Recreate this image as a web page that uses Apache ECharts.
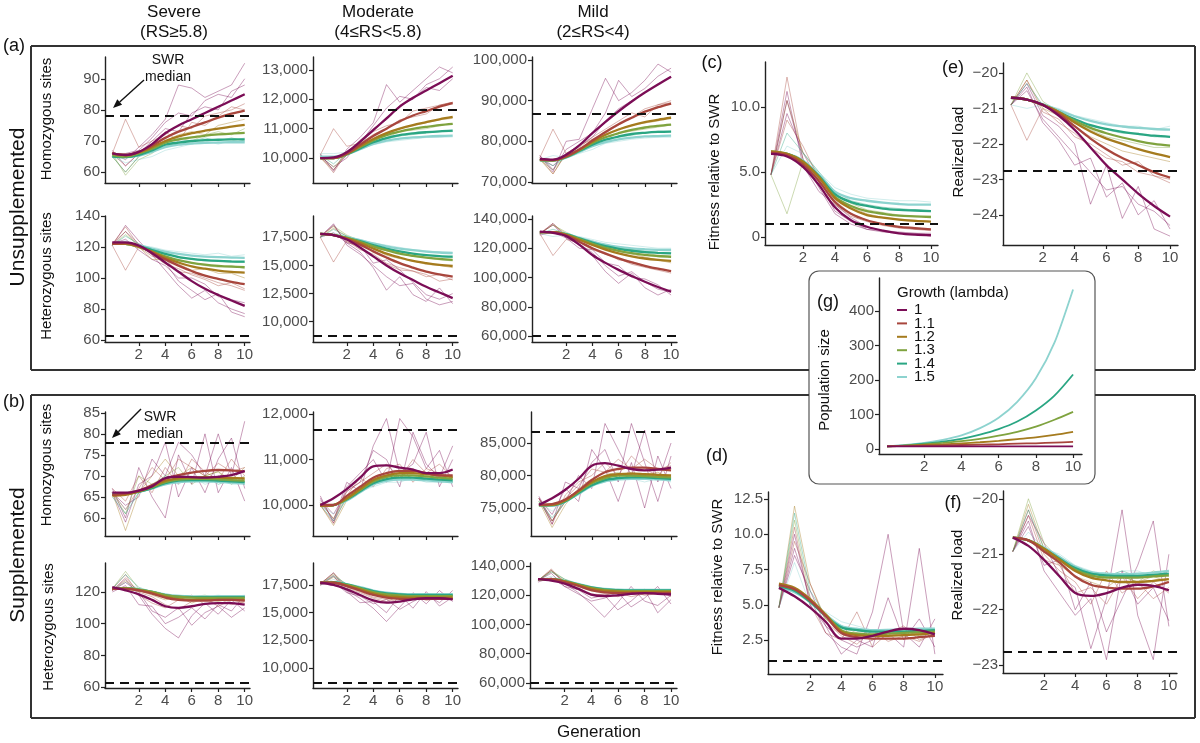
<!DOCTYPE html>
<html><head><meta charset="utf-8">
<script src="https://cdn.jsdelivr.net/npm/echarts@6/dist/echarts.min.js"></script>
<style>html,body{margin:0;padding:0;background:#fff}#c{width:1200px;height:743px}</style>
</head><body><div id="c"></div>
<script>
// ---------------- DATA ----------------
const generations = [0,1,2,3,4,5,6,7,8,9,10];
const generationTicks = [2,4,6,8,10];
const lambdaLabels = ['1','1.1','1.2','1.3','1.4','1.5'];
const repLambdaIndex = [0,0,1,2,3,5,0,1,4];

// (a) Unsupplemented, Severe, homozygous
const unsupSevHomTicks = [60,70,80,90];
const unsupSevHomSWR = 78;
const unsupSevHomMeans = [
 [66,65.5,66.5,69,72.5,75,77,79,81,83,85],
 [66,65.5,66.5,68.5,71,73,74.5,76,77.5,78.8,79.8],
 [66,65.5,66.3,68,70,71.5,72.5,73.3,74,74.6,75.2],
 [65.5,65,66,67.5,69.5,70.5,71.2,71.7,72.1,72.4,72.6],
 [65,64.8,65.5,67,68.8,69.5,70,70.3,70.4,70.5,70.5],
 [65,64.8,65.3,66.5,68,68.8,69.2,69.4,69.5,69.6,69.6]];
const unsupSevHomReps = [
 [67,62,66,70,74,73,79,81,80,86,88],
 [66,64,68,72,77,88,87,84,86,88,95],
 [66,77,68,70,72,75,74,78,79,80,82],
 [65,60,65,68,70,72,73,72,75,76,77],
 [66,59,64,66,69,71,70,72,73,72,74],
 [65,63,64,65,67,68,69,70,69,70,71],
 [66,66,67,71,76,79,78,83,85,84,90],
 [66,62,66,68,73,70,76,75,78,81,80],
 [65,60,65,67,68,70,70,71,70,71,70]];

// (a) Unsupplemented, Severe, heterozygous
const unsupSevHetTicks = [60,80,100,120,140];
const unsupSevHetSWR = 63;
const unsupSevHetMeans = [
 [123,123,121,116,110,104,98,93,89,85.5,82],
 [122,122.5,120.5,116.5,112,108,104.5,101.5,99.5,97.5,96],
 [122,122,120,117,113,110,107.5,106,104.8,104,103.5],
 [122,122,120,117,114,111.5,109.8,108.6,107.8,107.3,107],
 [122,122,120.5,118,115.5,113.5,112.3,111.5,111,110.7,110.5],
 [122,122,121,119,117,115.5,114.5,113.8,113.4,113.2,113]];
const unsupSevHetReps = [
 [121,134,124,115,105,95,87,92,84,80,77],
 [122,125,118,112,108,100,100,96,88,86,84],
 [121,105,120,114,112,104,103,100,97,95,92],
 [122,130,120,112,112,109,105,106,103,103,100],
 [121,128,121,117,113,111,110,108,107,108,106],
 [122,124,121,120,118,117,116,115,116,114,115],
 [121,130,122,118,110,98,92,86,90,78,75],
 [122,133,121,115,109,106,102,99,95,97,93],
 [121,127,122,118,115,114,112,111,111,110,110]];

// (a) Unsupplemented, Moderate, homozygous
const unsupModHomTicks = [10000,11000,12000,13000];
const unsupModHomSWR = 11650;
const unsupModHomMeans = [
 [10000,10020,10200,10550,10950,11350,11750,12050,12300,12550,12800],
 [10000,10000,10150,10450,10750,11000,11250,11450,11600,11750,11870],
 [10000,10000,10150,10400,10650,10850,11000,11120,11220,11320,11400],
 [10000,10000,10130,10370,10600,10780,10900,10990,11060,11120,11160],
 [10000,10000,10120,10330,10540,10680,10780,10840,10880,10910,10930],
 [10050,10050,10130,10300,10480,10590,10660,10700,10730,10750,10760]];
const unsupModHomReps = [
 [10150,9550,10300,10700,11200,12500,11900,12300,12700,13100,12900],
 [10050,9700,10000,10600,11000,11300,11800,12000,12400,12300,12700],
 [10100,11000,10400,10500,10800,11000,11300,11400,11500,11800,11900],
 [10000,9600,10200,10400,10600,10800,11000,11100,11200,11300,11350],
 [10050,9700,10100,10300,10500,10700,10900,10950,11000,11100,11150],
 [10150,10150,10200,10300,10450,10550,10600,10650,10700,10700,10720],
 [10100,9600,10100,10500,11100,11700,12100,12000,12500,12700,13100],
 [10050,9500,10200,10600,10900,11100,11200,11600,11700,11800,11900],
 [10100,9800,10200,10300,10500,10650,10750,10800,10850,10900,10900]];

// (a) Unsupplemented, Moderate, heterozygous
const unsupModHetTicks = [10000,12500,15000,17500];
const unsupModHetSWR = 8730;
const unsupModHetMeans = [
 [17800,17700,17300,16600,15800,15000,14300,13700,13100,12600,12100],
 [17800,17700,17350,16850,16250,15700,15200,14800,14450,14200,14000],
 [17800,17700,17400,17000,16500,16050,15700,15400,15200,15050,14950],
 [17800,17700,17450,17100,16700,16350,16050,15850,15700,15580,15500],
 [17800,17700,17450,17150,16800,16500,16250,16050,15920,15830,15780],
 [17800,17700,17500,17250,16950,16700,16500,16350,16230,16150,16100]];
const unsupModHetReps = [
 [17600,18600,17000,16200,14800,12800,14000,12400,11800,13000,11600],
 [17500,17900,17000,16800,15200,15500,14600,13500,12400,12000,12500],
 [17500,15300,17200,16400,16000,15200,14800,14500,14200,13600,13800],
 [17500,18300,17600,16900,16500,15900,15600,15400,15100,15000,14800],
 [17500,18500,17700,17200,16600,16300,16100,15800,15700,15500,15400],
 [17500,17900,17600,17300,17000,16800,16600,16400,16300,16200,16200],
 [17500,18700,16800,16000,15000,14000,13200,13400,12000,11500,11800],
 [17600,18500,17100,16600,15800,15100,14600,14500,14000,14200,13700],
 [17500,18200,17600,17200,16800,16400,16200,16000,15900,15800,15700]];

// (a) Unsupplemented, Mild, homozygous
const unsupMildHomTicks = [70000,80000,90000,100000];
const unsupMildHomSWR = 86800;
const unsupMildHomMeans = [
 [75700,75500,76700,79000,82000,84800,87400,89800,92000,94000,95900],
 [75500,75400,76300,78000,80200,82300,84200,85800,87300,88400,89300],
 [75500,75400,76300,77900,79900,81600,82900,83900,84700,85300,85800],
 [75400,75300,76200,77800,79600,81000,82000,82800,83400,83800,84100],
 [75400,75300,76100,77600,79200,80400,81200,81800,82100,82300,82400],
 [75400,75300,76000,77400,78800,79800,80500,80900,81200,81300,81400]];
const unsupMildHomReps = [
 [76500,72500,80000,80500,88000,95500,90000,92000,95000,99000,97000],
 [76000,74000,77000,79000,81000,85000,88000,90000,92000,94000,96000],
 [76000,83000,77000,79000,80500,82000,84000,86000,88000,89000,90000],
 [75500,72000,77000,78000,80000,81500,83000,84000,84500,85000,86000],
 [75500,73000,76500,77500,79500,81000,82000,82500,83000,83500,84000],
 [75500,76500,76000,77000,78000,79500,80000,80500,80800,81000,81000],
 [76500,73000,78000,80000,82000,87000,95000,91000,93000,96000,98000],
 [76000,72000,77000,78500,81000,83000,85000,87000,86000,89000,89500],
 [75500,74000,76000,77500,79000,80500,81000,81500,82000,82500,82500]];

// (a) Unsupplemented, Mild, heterozygous
const unsupMildHetTicks = [60000,80000,100000,120000,140000];
const unsupMildHetSWR = 60000;
const unsupMildHetMeans = [
 [131300,130500,128300,122500,115400,110000,105200,101000,97100,93500,90300],
 [131000,131000,128800,124500,120000,116300,113100,110300,108000,106000,104400],
 [131000,131000,129200,125800,122200,119100,116500,114500,113000,112000,111300],
 [131000,131000,129400,126300,123000,120300,118200,116600,115400,114700,114200],
 [131000,131000,129600,126700,123800,121400,119600,118300,117400,116900,116500],
 [131000,131000,129800,127100,124500,122400,120900,119900,119300,118900,118800]];
const unsupMildHetReps = [
 [130000,137000,128000,122000,115000,104000,96000,103000,93000,88000,92000],
 [129000,131000,127000,120000,119000,110000,108000,100000,99000,95000,88000],
 [130000,115000,126000,124000,119000,116000,113000,109000,107000,105000,103000],
 [130000,136000,130000,126000,123000,121000,118000,116000,114000,112000,110000],
 [130000,136000,131000,127000,125000,122000,120000,119000,117000,115000,114000],
 [130000,128000,129000,128000,126000,124000,123000,122000,121000,120000,120000],
 [130000,136000,127000,123000,117000,108000,101000,104000,97000,92000,90000],
 [130000,137000,128000,124000,120000,117000,112000,111000,108000,106000,104000],
 [130000,133000,130000,127000,124000,122000,120000,119000,118000,117000,117000]];

// (c) Unsupplemented fitness relative to SWR
const unsupFitTicks = [0,5,10];
const unsupFitSWR = 1;
const unsupFitMeans = [
 [6.4,6.2,5.4,4.0,2.3,1.3,0.8,0.5,0.3,0.2,0.15],
 [6.5,6.3,5.6,4.3,2.7,1.8,1.3,1.0,0.8,0.7,0.6],
 [6.6,6.4,5.8,4.6,3.0,2.2,1.7,1.5,1.35,1.25,1.2],
 [6.6,6.4,5.8,4.6,3.1,2.4,2.0,1.8,1.65,1.6,1.55],
 [6.5,6.4,5.8,4.7,3.3,2.7,2.4,2.2,2.1,2.05,2.0],
 [6.5,6.4,5.9,4.8,3.5,3.0,2.8,2.65,2.55,2.5,2.5]];
const unsupFitReps = [
 [4.8,9.5,6.5,4.2,2.0,1.2,0.6,0.4,0.3,0.2,0.1],
 [4.8,11.2,5.5,3.5,2.5,1.5,0.8,0.5,0.4,0.3,0.3],
 [4.8,12.3,6.0,4.5,2.8,1.8,1.3,1.0,0.8,0.6,0.5],
 [4.8,10.5,6.5,4.8,3.0,2.3,1.8,1.5,1.4,1.3,1.2],
 [4.8,1.8,5.8,4.5,3.2,2.6,2.1,1.9,1.7,1.6,1.6],
 [4.8,7.0,6.4,5.0,3.8,3.3,3.0,2.9,2.8,2.8,2.7],
 [4.8,10.5,6.0,3.8,1.8,1.0,0.6,0.5,0.3,0.3,0.2],
 [4.8,9.0,7.0,4.5,2.5,1.6,1.2,0.9,0.7,0.6,0.6],
 [4.8,8.0,6.5,5.0,3.5,2.8,2.5,2.3,2.2,2.1,2.0]];

// (e) Unsupplemented realized load
const unsupLoadTicks = [-24,-23,-22,-21,-20];
const unsupLoadSWR = -22.76;
const unsupLoadMeans = [
 [-20.7,-20.75,-20.9,-21.2,-21.6,-22.1,-22.6,-23.0,-23.4,-23.75,-24.05],
 [-20.7,-20.75,-20.9,-21.15,-21.5,-21.85,-22.15,-22.4,-22.6,-22.8,-22.95],
 [-20.7,-20.75,-20.9,-21.1,-21.4,-21.65,-21.85,-22.0,-22.15,-22.27,-22.37],
 [-20.7,-20.75,-20.9,-21.1,-21.35,-21.55,-21.7,-21.82,-21.92,-22.0,-22.05],
 [-20.7,-20.75,-20.9,-21.1,-21.3,-21.47,-21.58,-21.66,-21.72,-21.77,-21.8],
 [-20.7,-20.75,-20.88,-21.05,-21.22,-21.35,-21.45,-21.51,-21.55,-21.58,-21.6]];
const unsupLoadReps = [
 [-20.9,-20.3,-21.2,-21.5,-22.0,-23.7,-22.6,-24.1,-23.2,-24.4,-24.6],
 [-20.9,-20.5,-21.3,-21.8,-22.3,-22.8,-23.3,-23.2,-23.7,-23.9,-24.3],
 [-20.9,-21.9,-21.0,-21.4,-21.7,-22.1,-22.4,-22.5,-22.8,-22.9,-23.1],
 [-20.9,-20.2,-21.0,-21.2,-21.5,-21.8,-22.0,-22.2,-22.3,-22.4,-22.5],
 [-20.9,-20.0,-20.8,-21.1,-21.4,-21.6,-21.8,-21.9,-22.0,-22.1,-22.1],
 [-20.9,-21.0,-20.9,-21.0,-21.2,-21.3,-21.4,-21.5,-21.5,-21.6,-21.5],
 [-20.9,-20.4,-21.4,-21.9,-22.6,-22.4,-23.5,-23.1,-24.0,-23.6,-24.4],
 [-20.9,-20.2,-21.1,-21.3,-21.8,-22.0,-22.3,-22.6,-22.5,-22.9,-23.0],
 [-20.9,-20.3,-20.9,-21.1,-21.3,-21.5,-21.6,-21.7,-21.7,-21.8,-21.8]];

// (b) Supplemented, Severe, homozygous
const supSevHomTicks = [60,65,70,75,80,85];
const supSevHomSWR = 78;
const supSevHomMeans = [
 [66,66,66.5,67.5,69.5,69.8,69.7,69.6,69.8,70.2,71.2],
 [65.5,65.8,66.5,67.8,69.3,70.2,70.8,71.2,71.4,71.3,71.0],
 [65.3,65.5,66.3,67.5,68.8,69.4,69.6,69.7,69.6,69.5,69.4],
 [65.5,65.7,66.3,67.3,68.5,69.1,69.3,69.3,69.2,69.0,68.9],
 [65.5,65.7,66.2,67.1,68.3,68.9,69.0,69.0,68.9,68.7,68.5],
 [65.8,65.9,66.3,67.0,68.0,68.5,68.7,68.7,68.6,68.4,68.2]];
const supSevHomReps = [
 [67,60,72,65,60,75,68,80,66,72,64],
 [66,63,65,74,70,78,75,70,80,70,83],
 [67,64,70,66,72,68,74,71,69,74,70],
 [66,57,66,70,74,70,72,70,71,69,72],
 [66,61,70,68,70,72,68,70,71,68,70],
 [66,62,66,67,69,68,70,68,69,68,68],
 [66,59,68,70,78,65,72,66,74,79,67],
 [66,62,67,72,69,74,72,70,73,71,72],
 [65,61,66,67,70,69,69,70,68,69,68]];

// (b) Supplemented, Severe, heterozygous
const supSevHetTicks = [60,80,100,120];
const supSevHetSWR = 63;
const supSevHetMeans = [
 [123,121,118.5,115,111,110,111,112.5,113,113,112],
 [122,122,121,119,116.5,115,114.5,114.5,115,115,114.5],
 [122,122,121,119.5,117,115.5,115,115,115,115,115],
 [122,122.5,121.5,120,118,117,116.5,116.3,116.3,116.3,116.2],
 [122,122.5,121.5,120,118,117,116.8,116.7,116.7,116.8,116.8],
 [122,122.5,121.7,120.3,118.5,117.5,117.2,117.2,117.3,117.4,117.4]];
const supSevHetReps = [
 [121,128,118,106,97,91,105,113,106,115,108],
 [120,124,112,111,100,104,110,103,112,108,118],
 [122,131,118,113,110,115,118,112,116,112,114],
 [121,127,121,118,115,117,113,116,114,116,115],
 [122,133,122,119,117,116,117,118,116,117,116],
 [122,126,122,120,118,118,117,117,118,117,118],
 [121,126,120,108,104,110,99,107,111,104,110],
 [121,129,120,117,112,109,114,116,111,115,113],
 [122,131,123,120,117,117,117,116,117,117,117]];

// (b) Supplemented, Moderate, homozygous
const supModHomTicks = [10000,11000,12000];
const supModHomSWR = 11650;
const supModHomMeans = [
 [10000,10150,10350,10600,10850,10870,10820,10780,10700,10700,10780],
 [10000,10000,10200,10400,10600,10700,10750,10750,10700,10650,10650],
 [9980,10000,10150,10350,10550,10650,10700,10700,10680,10650,10620],
 [9980,10000,10130,10330,10520,10620,10650,10650,10630,10600,10580],
 [9980,10000,10120,10300,10480,10570,10600,10600,10580,10560,10540],
 [9990,10000,10100,10280,10450,10530,10560,10560,10540,10520,10500]];
const supModHomReps = [
 [10200,9600,10400,10700,11000,10500,11900,11500,10800,11200,10400],
 [10100,9800,10300,10500,11200,11000,10400,11600,10900,10600,11300],
 [10000,9600,10200,10600,10400,10800,10900,10500,10800,10700,10500],
 [10000,9550,10100,10300,10600,10700,10600,10800,10600,10700,10600],
 [10050,9700,10200,10400,10500,10600,10700,10600,10700,10600,10500],
 [10000,9800,10100,10300,10400,10500,10500,10600,10500,10500,10500],
 [10150,9650,10500,10300,11300,11900,10700,10900,11600,10400,11000],
 [10050,9700,10300,10500,10700,10900,10600,11000,10700,10900,10600],
 [10000,9650,10150,10350,10500,10550,10650,10600,10550,10600,10550]];

// (b) Supplemented, Moderate, heterozygous
const supModHetTicks = [10000,12500,15000,17500];
const supModHetSWR = 8650;
const supModHetMeans = [
 [17700,17500,17100,16600,16100,15900,16000,16200,16300,16300,16200],
 [17700,17700,17400,17000,16600,16350,16250,16250,16250,16250,16250],
 [17700,17700,17450,17100,16750,16500,16400,16350,16350,16350,16350],
 [17700,17700,17500,17200,16850,16650,16550,16500,16500,16500,16500],
 [17700,17750,17550,17250,16950,16750,16650,16600,16600,16600,16600],
 [17700,17750,17550,17300,17000,16800,16700,16650,16650,16650,16650]];
const supModHetReps = [
 [17600,18600,17000,16300,15400,14200,15500,16800,15800,17000,16000],
 [17500,17800,16800,16500,15800,16200,15300,16000,16600,15900,17000],
 [17600,18400,17200,16800,16300,16000,16500,16300,16200,16600,16300],
 [17500,18200,17400,17000,16600,16400,16300,16400,16300,16400,16300],
 [17600,18500,17500,17200,16800,16600,16500,16600,16500,16500,16600],
 [17500,18000,17600,17300,17000,16800,16700,16700,16700,16600,16700],
 [17500,18300,16900,15900,16000,15000,16600,15400,16900,15600,16400],
 [17600,18600,17300,16900,16400,16200,16000,16600,16100,16300,16500],
 [17600,18300,17600,17200,16900,16700,16600,16600,16500,16600,16600]];

// (b) Supplemented, Mild, homozygous
const supMildHomTicks = [75000,80000,85000];
const supMildHomSWR = 86700;
const supMildHomMeans = [
 [75500,76500,77800,79500,81500,81900,81500,81000,80800,80900,81200],
 [75500,75600,76300,77700,79300,80500,81000,81200,81200,81000,80800],
 [75500,75500,76200,77600,79000,79900,80200,80300,80200,80100,80000],
 [75400,75500,76100,77500,78800,79600,80000,80000,79900,79800,79700],
 [75400,75400,76000,77300,78500,79300,79600,79700,79700,79600,79500],
 [75400,75400,76000,77200,78400,79100,79400,79500,79500,79400,79300]];
const supMildHomReps = [
 [76800,73000,76000,80000,78000,88000,84000,80000,87000,79000,85000],
 [76500,74000,78000,76000,84000,81000,76000,82000,75000,83000,78000],
 [76500,72500,77000,79000,80000,82000,80000,83000,81000,80000,82000],
 [76000,72000,75500,78000,79500,80500,80000,80500,80000,80500,79500],
 [76000,73000,76000,77500,79000,80000,80500,79500,80000,79500,80000],
 [76000,74500,76000,77000,78500,79000,79500,79500,79000,79500,79000],
 [76500,72500,79000,78000,82000,84000,79000,88000,82000,76000,83000],
 [76500,73000,76500,78500,81000,80500,82500,81000,82500,81000,81500],
 [76000,73500,76000,77500,78500,79500,79500,80000,79500,79500,79500]];

// (b) Supplemented, Mild, heterozygous
const supMildHetTicks = [60000,80000,100000,120000,140000];
const supMildHetSWR = 60500;
const supMildHetMeans = [
 [131000,130000,128000,124500,120500,119500,120000,121000,121500,121000,120500],
 [131000,131000,129000,126500,123500,122000,121500,121500,121500,121500,121500],
 [131000,131000,129500,127000,124500,123000,122500,122300,122300,122300,122300],
 [131000,131000,129500,127200,125000,123600,123000,122800,122800,122800,122800],
 [131000,131000,129700,127500,125300,124000,123500,123300,123300,123300,123300],
 [131000,131000,129700,127700,125600,124300,123800,123600,123600,123600,123600]];
const supMildHetReps = [
 [130000,137000,128000,122000,114000,105000,115000,126000,116000,113000,120000],
 [129000,132000,126000,124000,118000,120000,110000,116000,124000,108000,117000],
 [130000,138000,128000,125000,121000,120000,122000,119000,121000,124000,119000],
 [130000,136000,130000,126000,123000,122000,123000,122000,122000,123000,122000],
 [130000,137000,131000,127000,124000,123000,123000,123000,123000,122000,123000],
 [130000,133000,130000,128000,125000,124000,124000,123000,124000,123000,124000],
 [130000,135000,126000,121000,116000,118000,122000,112000,118000,126000,114000],
 [130000,137000,129000,124000,120000,121000,119000,123000,120000,121000,122000],
 [130000,136000,131000,128000,125000,124000,123000,124000,123000,123000,123000]];

// (d) Supplemented fitness relative to SWR
const supFitTicks = [2.5,5,7.5,10,12.5];
const supFitSWR = 1;
const supFitMeans = [
 [6.2,5.6,4.8,3.8,2.6,2.6,2.8,3.1,3.3,3.2,2.9],
 [6.4,6.1,5.3,4.2,3.0,2.7,2.6,2.6,2.6,2.7,2.8],
 [6.5,6.2,5.4,4.3,3.1,2.85,2.8,2.8,2.85,2.9,3.0],
 [6.4,6.1,5.3,4.3,3.2,2.95,2.9,2.95,3.0,3.05,3.1],
 [6.3,6.0,5.2,4.2,3.4,3.2,3.1,3.1,3.1,3.15,3.2],
 [6.2,5.9,5.2,4.3,3.5,3.3,3.2,3.2,3.25,3.3,3.3]];
const supFitReps = [
 [4.8,9.0,5.5,3.0,2.0,1.5,4.5,10.0,3.0,2.0,4.0],
 [4.8,8.5,6.0,3.5,2.5,2.0,2.5,3.0,2.0,9.0,1.5],
 [4.8,10.5,5.0,3.0,2.5,4.5,2.0,3.0,3.5,2.5,3.0],
 [4.8,12.0,6.5,4.0,3.0,3.0,2.5,3.0,2.8,3.0,3.2],
 [4.8,11.0,5.5,4.0,3.5,3.0,3.0,3.0,3.2,2.8,3.0],
 [4.8,8.0,5.0,4.5,3.8,3.5,3.2,3.3,3.2,3.3,3.3],
 [4.8,10.0,5.0,3.5,1.5,2.5,2.0,5.5,2.5,4.0,2.0],
 [4.8,9.5,6.5,3.8,2.8,2.2,3.2,2.4,2.8,2.4,3.0],
 [4.8,11.5,6.0,4.2,3.5,3.2,3.2,3.1,3.3,3.2,3.2]];

// (f) Supplemented realized load
const supLoadTicks = [-23,-22,-21,-20];
const supLoadSWR = -22.75;
const supLoadMeans = [
 [-20.7,-20.85,-21.1,-21.4,-21.7,-21.75,-21.7,-21.6,-21.55,-21.57,-21.65],
 [-20.7,-20.75,-20.95,-21.15,-21.4,-21.55,-21.6,-21.62,-21.62,-21.58,-21.5],
 [-20.7,-20.75,-20.9,-21.1,-21.3,-21.42,-21.47,-21.5,-21.5,-21.48,-21.45],
 [-20.7,-20.75,-20.9,-21.1,-21.28,-21.38,-21.42,-21.42,-21.42,-21.4,-21.38],
 [-20.7,-20.75,-20.9,-21.08,-21.25,-21.35,-21.38,-21.39,-21.39,-21.37,-21.35],
 [-20.7,-20.75,-20.88,-21.05,-21.22,-21.32,-21.35,-21.36,-21.35,-21.33,-21.3]];
const supLoadReps = [
 [-20.95,-20.3,-20.8,-21.4,-21.6,-22.7,-21.8,-20.2,-22.1,-22.9,-21.0],
 [-20.95,-20.5,-21.2,-21.1,-22.0,-21.5,-22.4,-21.8,-21.2,-20.4,-22.3],
 [-20.95,-20.2,-21.0,-21.3,-21.5,-21.9,-21.3,-21.7,-21.5,-21.8,-21.6],
 [-20.95,-20.1,-20.9,-21.2,-21.4,-21.5,-21.6,-21.4,-21.5,-21.4,-21.5],
 [-20.95,-20.0,-20.8,-21.1,-21.3,-21.4,-21.4,-21.4,-21.5,-21.3,-21.4],
 [-20.95,-20.6,-20.9,-21.0,-21.2,-21.3,-21.4,-21.3,-21.3,-21.4,-21.3],
 [-20.95,-20.4,-21.3,-21.7,-22.1,-21.8,-22.9,-21.3,-21.9,-21.6,-22.2],
 [-20.95,-20.3,-21.1,-21.2,-21.7,-21.6,-21.9,-21.4,-21.8,-21.5,-21.7],
 [-20.95,-20.2,-20.9,-21.1,-21.3,-21.4,-21.4,-21.3,-21.4,-21.4,-21.3]];

// (g) Population size by growth rate
const popTicks = [0,100,200,300,400];
const popSize = [
 [8,8,8,8,8,8,8,8,8,8,8],
 [8,9,10,11,12,13,14,16,17,19,21],
 [8,10,12,14,17,20,24,29,34,41,50],
 [8,10,14,18,23,30,39,50,65,85,108],
 [8,11,16,22,30,42,58,80,112,155,216],
 [8,12,18,27,40,61,91,137,205,308,462]];

// ---------------- RENDER ----------------
const COLORS = ['#7b0d56','#a8463d','#a57b1e','#7fa33f','#2aa683','#8dd3cf'];
const FF = "'Liberation Sans', Arial, Helvetica, sans-serif";
const AX = '#222';
const LAB = '#4d4d4d';
const comma = v => String(v).replace(/\B(?=(\d{3})+(?!\d))/g, ',');
const plain = v => String(v);
const oneDec = v => v === 0 ? '0' : v.toFixed(1);
const minus = v => v < 0 ? '\u2212' + Math.abs(v) : String(v);

const SX = {xmin:-0.55, xmax:10.4};
const panels = [
 {left:105, top:57, width:145, height:126, ...SX, ymin:56.5, ymax:97, ticks:unsupSevHomTicks, fmt:plain, means:unsupSevHomMeans, reps:unsupSevHomReps, swr:unsupSevHomSWR, xLabels:false},
 {left:105, top:216, width:145, height:126, ...SX, ymin:58.7, ymax:140, ticks:unsupSevHetTicks, fmt:plain, means:unsupSevHetMeans, reps:unsupSevHetReps, swr:unsupSevHetSWR, xLabels:true},
 {left:313, top:57, width:145, height:126, ...SX, ymin:9150, ymax:13440, ticks:unsupModHomTicks, fmt:comma, means:unsupModHomMeans, reps:unsupModHomReps, swr:unsupModHomSWR, xLabels:false},
 {left:313, top:216, width:145, height:126, ...SX, ymin:8200, ymax:19390, ticks:unsupModHetTicks, fmt:comma, means:unsupModHetMeans, reps:unsupModHetReps, swr:unsupModHetSWR, xLabels:true},
 {left:532, top:57, width:145, height:126, xmin:-0.6, xmax:10.45, ymin:69750, ymax:100740, ticks:unsupMildHomTicks, fmt:comma, means:unsupMildHomMeans, reps:unsupMildHomReps, swr:unsupMildHomSWR, xLabels:false},
 {left:532, top:216, width:145, height:126, xmin:-0.6, xmax:10.45, ymin:55900, ymax:142050, ticks:unsupMildHetTicks, fmt:comma, means:unsupMildHetMeans, reps:unsupMildHetReps, swr:unsupMildHetSWR, xLabels:true},
 {left:105, top:412, width:145, height:124, ...SX, ymin:55.7, ymax:85.2, ticks:supSevHomTicks, fmt:plain, means:supSevHomMeans, reps:supSevHomReps, swr:supSevHomSWR, xLabels:false},
 {left:105, top:563, width:145, height:125, ...SX, ymin:59.4, ymax:138.3, ticks:supSevHetTicks, fmt:plain, means:supSevHetMeans, reps:supSevHetReps, swr:supSevHetSWR, xLabels:true},
 {left:313, top:412, width:145, height:124, ...SX, ymin:9319, ymax:12044, ticks:supModHomTicks, fmt:comma, means:supModHomMeans, reps:supModHomReps, swr:supModHomSWR, xLabels:false},
 {left:313, top:563, width:145, height:125, ...SX, ymin:8195, ymax:19485, ticks:supModHetTicks, fmt:comma, means:supModHetMeans, reps:supModHetReps, swr:supModHetSWR, xLabels:true},
 {left:531, top:412, width:146, height:124, xmin:-0.6, xmax:10.45, ymin:70690, ymax:89770, ticks:supMildHomTicks, fmt:comma, means:supMildHomMeans, reps:supMildHomReps, swr:supMildHomSWR, xLabels:false},
 {left:530, top:563, width:147, height:125, xmin:-0.6, xmax:10.45, ymin:56580, ymax:142050, ticks:supMildHetTicks, fmt:comma, means:supMildHetMeans, reps:supMildHetReps, swr:supMildHetSWR, xLabels:true},
 {left:765, top:62, width:173, height:183, xmin:-0.375, xmax:10.44, ymin:-0.6, ymax:13.46, ticks:unsupFitTicks, fmt:oneDec, means:unsupFitMeans, reps:unsupFitReps, swr:unsupFitSWR, xLabels:true},
 {left:1003, top:63, width:175, height:182, xmin:-0.5, xmax:10.5, ymin:-24.85, ymax:-19.72, ticks:unsupLoadTicks, fmt:minus, means:unsupLoadMeans, reps:unsupLoadReps, swr:unsupLoadSWR, xLabels:true},
 {left:768, top:492, width:175, height:182, xmin:-0.7, xmax:10.52, ymin:0.09, ymax:13.0, ticks:supFitTicks, fmt:oneDec, means:supFitMeans, reps:supFitReps, swr:supFitSWR, xLabels:true},
 {left:1003, top:491, width:174, height:182, xmin:-0.63, xmax:10.52, ymin:-23.14, ymax:-19.86, ticks:supLoadTicks, fmt:minus, means:supLoadMeans, reps:supLoadReps, swr:supLoadSWR, xLabels:true},
 {left:879, top:278, width:203, height:176, xmin:-0.43, xmax:10.48, ymin:-14, ymax:495, ticks:popTicks, fmt:plain, means:popSize, reps:null, swr:null, xLabels:true, meanWidth:1.8, noSmooth:true}
];

const grids = [], xAxes = [], yAxes = [], series = [];
panels.forEach((p, i) => {
  grids.push({left:p.left, top:p.top, width:p.width, height:p.height, containLabel:false});
  const axLine = {show:true, onZero:false, lineStyle:{color:AX, width:1.4}};
  xAxes.push({type:'value', gridIndex:i, min:p.xmin, max:p.xmax, axisLine:axLine,
    axisTick:{show:true, customValues:generationTicks, length:4, lineStyle:{color:AX, width:1.2}},
    axisLabel:{show:p.xLabels, customValues:generationTicks, color:LAB, fontSize:15, fontFamily:FF, margin:5},
    splitLine:{show:false}});
  yAxes.push({type:'value', gridIndex:i, min:p.ymin, max:p.ymax, axisLine:axLine,
    axisTick:{show:true, customValues:p.ticks, length:4, lineStyle:{color:AX, width:1.2}},
    axisLabel:{show:true, customValues:p.ticks, formatter:p.fmt, color:LAB, fontSize:15, fontFamily:FF, margin:5},
    splitLine:{show:false}});
  if (p.reps) {
    p.reps.forEach((r, k) => series.push({type:'line', xAxisIndex:i, yAxisIndex:i,
      data: generations.map((g, j) => [g, r[j]]), symbol:'none', showSymbol:false, silent:true,
      animation:false, z:2, emphasis:{disabled:true},
      lineStyle:{width:1, color:COLORS[repLambdaIndex[k]], opacity:0.4}}));
  }
  for (let k = p.means.length - 1; k >= 0; k--) {
    const s = {type:'line', xAxisIndex:i, yAxisIndex:i, name:lambdaLabels[k],
      data: generations.map((g, j) => [g, p.means[k][j]]), symbol:'none', showSymbol:false,
      silent:true, animation:false, z:3, emphasis:{disabled:true}, smooth: p.noSmooth ? 0.3 : 0.35,
      lineStyle:{width:p.meanWidth || 2.3, color:COLORS[k]}};
    if (k === 0 && p.swr != null) {
      s.markLine = {silent:true, symbol:['none','none'], animation:false, label:{show:false},
        lineStyle:{color:'#111', width:2, type:[9,6], opacity:1}, data:[{yAxis:p.swr}]};
    }
    series.push(s);
  }
});

// graphics
const G = [];
function txt(t, x, y, size, opts) {
  opts = opts || {};
  G.push({type:'text', x:x, y:y, rotation:opts.rot || 0, silent:true, z:10,
    style:{text:t, font:(opts.weight||'normal') + ' ' + size + 'px ' + FF, fill:opts.color || '#111',
      align:opts.align || 'center', verticalAlign:'middle', textAlign:opts.align || 'center', textVerticalAlign:'middle'}});
}
function seg(x1, y1, x2, y2, w, c) {
  G.push({type:'line', silent:true, z:10, shape:{x1:x1, y1:y1, x2:x2, y2:y2}, style:{stroke:c || '#333', lineWidth:w || 2}});
}
function arrow(x1, y1, x2, y2) {
  const dx = x2 - x1, dy = y2 - y1, L = Math.hypot(dx, dy), ux = dx / L, uy = dy / L, hl = 9, hw = 3.6;
  const bx = x2 - ux * hl, by = y2 - uy * hl;
  seg(x1, y1, bx, by, 1.4, '#111');
  G.push({type:'polygon', silent:true, z:10, shape:{points:[[x2, y2], [bx - uy * hw, by + ux * hw], [bx + uy * hw, by - ux * hw]]}, style:{fill:'#111'}});
}
// boxes (split where the inset overlaps)
seg(31, 46, 1195, 46); seg(31, 46, 31, 370); seg(1195, 46, 1195, 370);
seg(31, 370, 809, 370); seg(1095, 370, 1195, 370);
seg(31, 395, 809, 395); seg(1095, 395, 1195, 395);
seg(31, 395, 31, 718); seg(1195, 395, 1195, 718); seg(31, 718, 1195, 718);
// inset box (g)
G.push({type:'rect', silent:true, z:9, shape:{x:809, y:271, width:286, height:213, r:10}, style:{fill:'none', stroke:'#555', lineWidth:1.2}});

// headers
txt('Severe', 174, 12, 17); txt('(RS\u22655.8)', 174, 32, 17);
txt('Moderate', 378, 12, 17); txt('(4\u2264RS<5.8)', 378, 32, 17);
txt('Mild', 593, 12, 17); txt('(2\u2264RS<4)', 593, 32, 17);
// panel letters
txt('(a)', 14, 46, 18); txt('(b)', 14, 402, 18);
txt('(c)', 712, 63, 18); txt('(e)', 953, 68, 18);
txt('(d)', 717, 456, 18); txt('(f)', 953, 503, 18); txt('(g)', 828, 302, 18);
// row labels
txt('Unsupplemented', 18, 207, 21, {rot:Math.PI / 2});
txt('Supplemented', 18, 555, 21, {rot:Math.PI / 2});
// y-axis titles
txt('Homozygous sites', 47, 119, 15, {rot:Math.PI / 2});
txt('Heterozygous sites', 47, 276, 15, {rot:Math.PI / 2});
txt('Homozygous sites', 47, 465, 15, {rot:Math.PI / 2});
txt('Heterozygous sites', 49, 627, 15, {rot:Math.PI / 2});
txt('Fitness relative to SWR', 715, 172, 15, {rot:Math.PI / 2});
txt('Fitness relative to SWR', 718, 577, 15, {rot:Math.PI / 2});
txt('Realized load', 959, 152, 15, {rot:Math.PI / 2});
txt('Realized load', 958, 575, 15, {rot:Math.PI / 2});
txt('Population size', 825, 380, 15, {rot:Math.PI / 2});
// x-axis title
txt('Generation', 599, 732, 17);
// SWR median annotations
txt('SWR', 168, 60, 14); txt('median', 168, 77, 14);
arrow(144, 80, 113, 108);
txt('SWR', 160, 417, 14); txt('median', 160, 434, 14);
arrow(141, 409, 112, 438);
// legend (g)
txt('Growth (lambda)', 897, 293, 15, {align:'left'});
lambdaLabels.forEach((lab, k) => {
  const y = 310 + k * 13.4;
  seg(897, y, 907, y, 2, COLORS[k]);
  txt(lab, 914, y, 15, {align:'left'});
});

const chart = echarts.init(document.getElementById('c'), null, {renderer:'canvas', width:1200, height:743});
chart.setOption({
  animation:false, backgroundColor:'#fff',
  grid:grids, xAxis:xAxes, yAxis:yAxes, series:series, graphic:{elements:G}
});
</script>
</body></html>
